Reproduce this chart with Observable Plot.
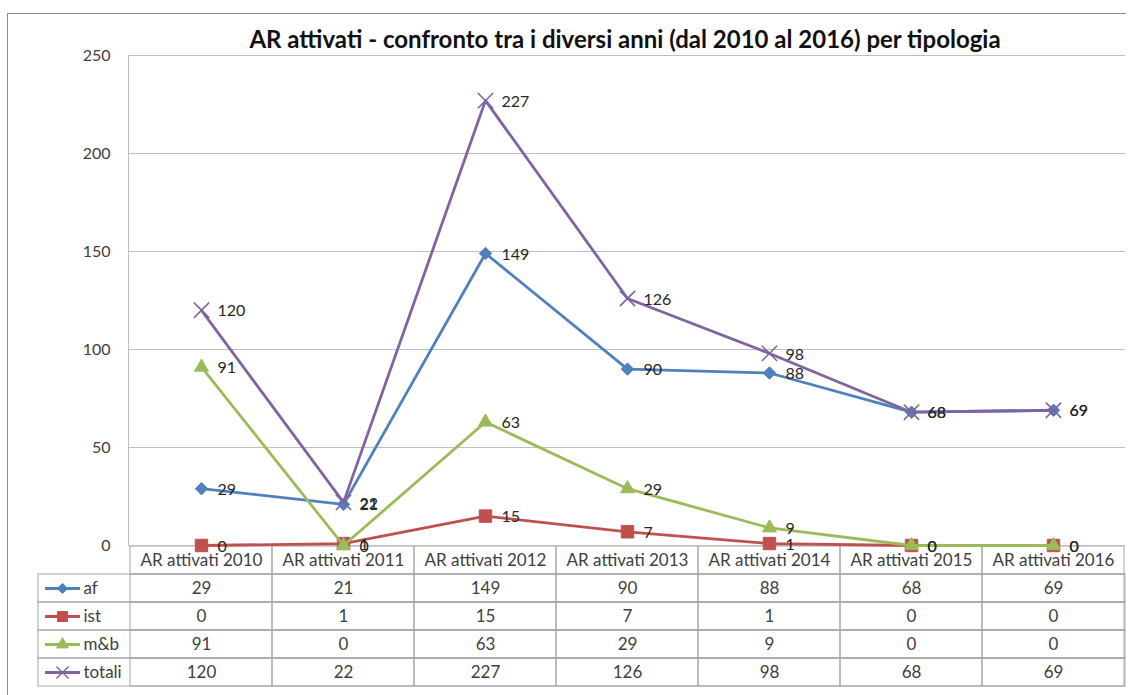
<!DOCTYPE html>
<html><head><meta charset="utf-8">
<script src="https://cdn.jsdelivr.net/npm/d3@7"></script>
<script src="https://cdn.jsdelivr.net/npm/@observablehq/plot@0.6"></script>
<style>
html,body{margin:0;padding:0;background:#fff;overflow:hidden;}
#wrap{position:relative;width:1132px;height:695px;overflow:hidden;font-family:Lato,"Open Sans",sans-serif;background:#fff;}
#border{position:absolute;left:7px;top:13px;width:1118px;height:700px;border-left:1.5px solid #8c8c8c;border-top:1.5px solid #8c8c8c;}
#title{position:absolute;left:125px;width:1000px;top:25px;text-align:center;font-family:Lato,sans-serif;font-weight:bold;font-size:24px;line-height:28px;color:#111;}
.layer{position:absolute;left:0;}
</style></head><body>
<div id="wrap">
  <div id="border"></div>
  <div id="table" class="layer" style="top:545px"></div>
  <div id="chart" class="layer" style="top:0"></div>
  <div id="title"></div>
</div>
<script>
const titleText = "AR attivati - confronto tra i diversi anni (dal 2010 al 2016) per tipologia";
const categories = ["AR attivati 2010","AR attivati 2011","AR attivati 2012","AR attivati 2013","AR attivati 2014","AR attivati 2015","AR attivati 2016"];
const seriesNames = ["af","ist","m&b","totali"];
const af = [29,21,149,90,88,68,69];
const ist = [0,1,15,7,1,0,0];
const mb = [91,0,63,29,9,0,0];
const totali = [120,22,227,126,98,68,69];
const yTicks = [0,50,100,150,200,250];
const seriesColors = ["#4F81BD","#C0504D","#9BBB59","#8064A2"];
const seriesSymbols = ["diamond2","square","triangle","times"];

const seriesValues = [af, ist, mb, totali];
const data = seriesNames.flatMap((s, si) => seriesValues[si].map((v, i) => ({series: s, cat: categories[i], value: v})));
const markerR = {"af": 5.6, "ist": 7, "m&b": 5.2, "totali": 7};
const legendR = {"af": 4.6, "ist": 5.6, "m&b": 4.4, "totali": 5.6};

document.getElementById("title").textContent = titleText;

const seriesMarks = seriesNames.flatMap((s, si) => {
  const rows = data.filter(d => d.series === s);
  const hollow = seriesSymbols[si] === "times";
  return [
    Plot.line(rows, {x: "cat", y: "value", stroke: "series", strokeWidth: 2.8, strokeLinejoin: "round"}),
    Plot.dot(rows, {x: "cat", y: "value", symbol: "series", r: markerR[s],
      fill: hollow ? "none" : "series", stroke: "series", strokeWidth: hollow ? 1.6 : 1})
  ];
});

const chart = Plot.plot({
  width: 1126, height: 560,
  marginTop: 55, marginBottom: 15, marginLeft: 128, marginRight: 1,
  style: {background: "transparent", overflow: "hidden", fontFamily: "Lato, sans-serif", fontSize: "16px", color: "#404040"},
  x: {type: "point", domain: categories, padding: 0.5, axis: null},
  y: {domain: [0, 250], ticks: yTicks, tickSize: 0, tickPadding: 18, label: null},
  color: {domain: seriesNames, range: seriesColors},
  symbol: {domain: seriesNames, range: seriesSymbols},
  marks: [
    Plot.ruleY(yTicks, {stroke: "#bfbfbf", strokeWidth: 1}),
    Plot.frame({anchor: "left", stroke: "#bfbfbf"}),
    ...seriesMarks,
    Plot.text(data, {x: "cat", y: "value", text: d => String(d.value), textAnchor: "start", dx: 16, dy: 1, fontSize: 16, fill: "#262626"})
  ]
});
document.getElementById("chart").appendChild(chart);

const rowKeys = ["header", ...seriesNames];
const table = Plot.plot({
  width: 1127, height: 144,
  marginTop: 0, marginBottom: 2, marginLeft: 38, marginRight: 2,
  style: {background: "transparent", overflow: "hidden", fontFamily: "Lato, sans-serif", fontSize: "17px", color: "#404040"},
  x: {type: "band", domain: categories, range: [128, 1125], padding: 0, axis: null},
  y: {type: "band", domain: rowKeys, padding: 0, axis: null},
  color: {domain: seriesNames, range: seriesColors},
  symbol: {domain: seriesNames, range: seriesSymbols},
  marks: [
    Plot.cell(seriesNames, {y: d => d, stroke: "#a6a6a6", fill: "none"}),
    Plot.cell(data, {x: "cat", y: "series", stroke: "#a6a6a6", fill: "none"}),
    Plot.cell(categories, {x: d => d, y: () => "header", stroke: "#a6a6a6", fill: "none"}),
    Plot.text(categories, {x: d => d, y: () => "header", text: d => d, fill: "#404040"}),
    Plot.text(data, {x: "cat", y: "series", text: d => String(d.value), fill: "#404040"}),
    Plot.tickY(seriesNames, {y: d => d, stroke: d => d, strokeWidth: 2.8, insetLeft: 7, insetRight: 1045}),
    ...seriesNames.map((s, si) => Plot.dot([s], {y: d => d, frameAnchor: "left", dx: 24, symbol: d => d, r: legendR[s],
      fill: seriesSymbols[si] === "times" ? "none" : seriesColors[si], stroke: seriesColors[si], strokeWidth: seriesSymbols[si] === "times" ? 1.4 : 1})),
    Plot.text(seriesNames, {y: d => d, frameAnchor: "left", dx: 45, textAnchor: "start", text: d => d, fill: "#404040"})
  ]
});
document.getElementById("table").appendChild(table);
</script>
</body></html>
